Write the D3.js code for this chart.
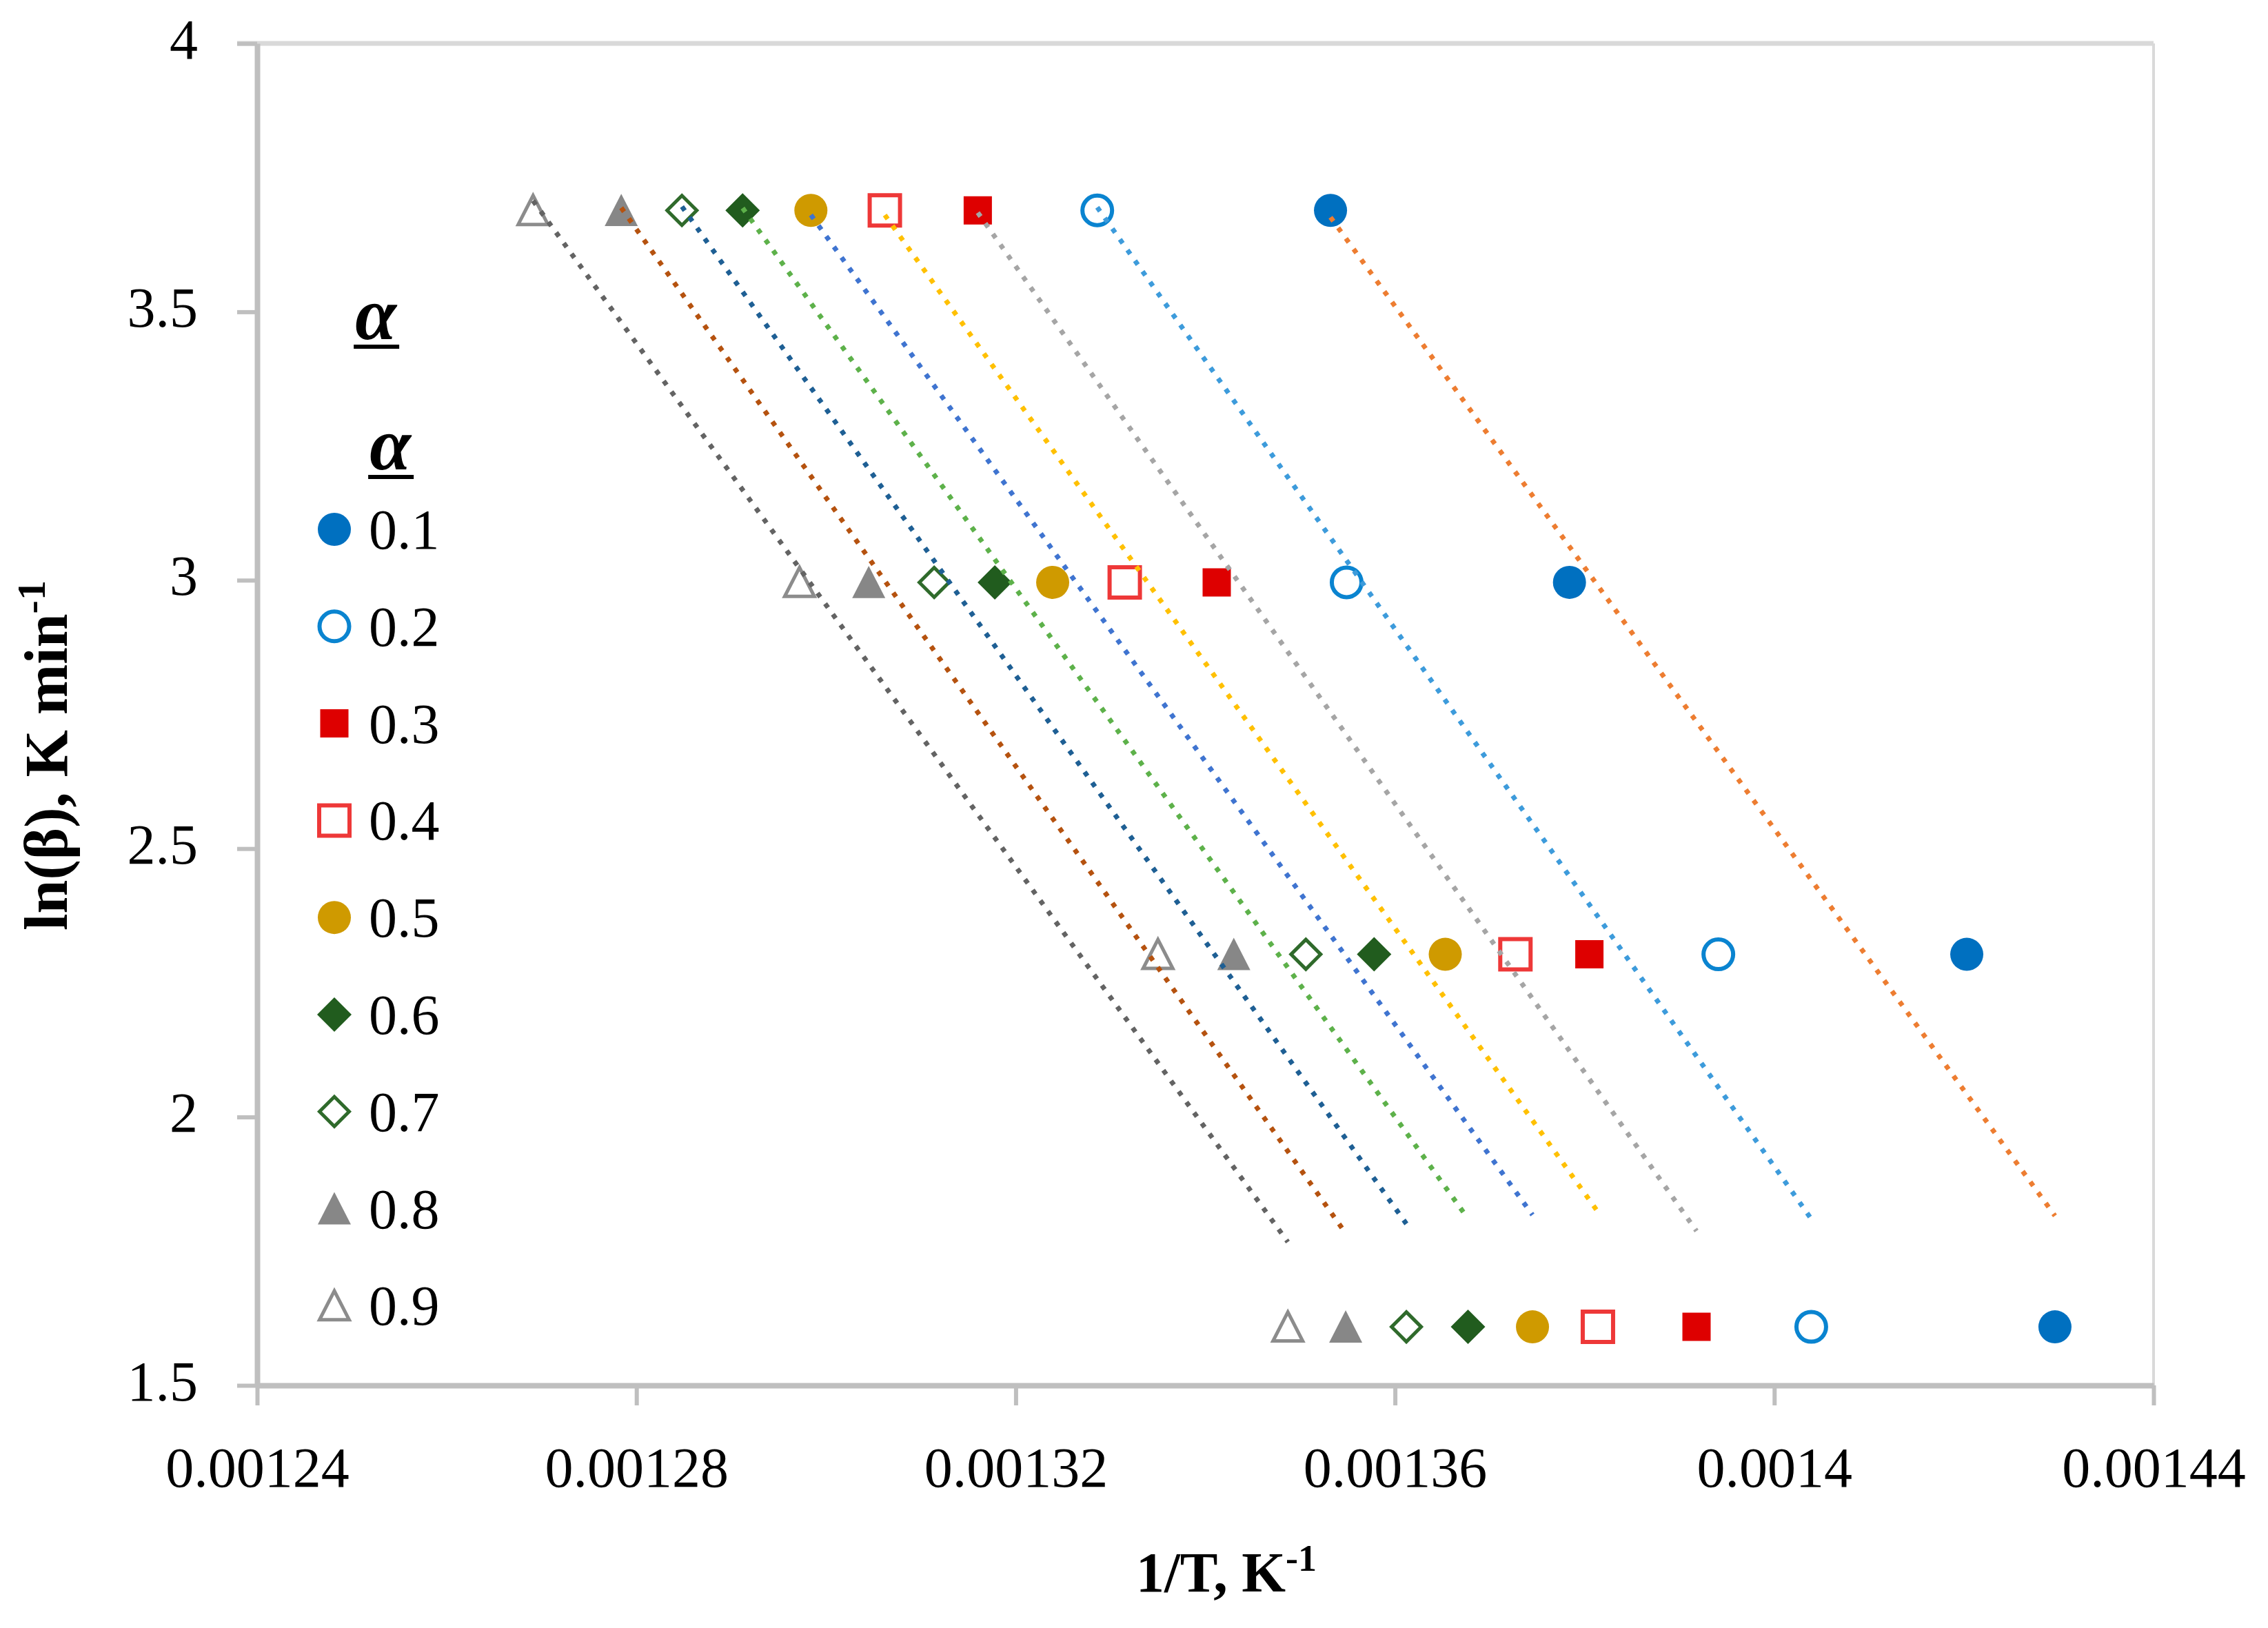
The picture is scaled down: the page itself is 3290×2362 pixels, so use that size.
<!DOCTYPE html>
<html lang="en">
<head>
<meta charset="UTF-8">
<title>ln(beta) vs 1/T</title>
<script src="https://cdn.jsdelivr.net/npm/d3@7"></script>
<style>
  body { margin: 0; background: #fff; }
  svg text { font-family: "Liberation Serif", "Times New Roman", serif; fill: #000; }
</style>
</head>
<body>
<svg id="chart" width="3290" height="2362"></svg>
<script>
// conversion degrees (legend order)
var alphas = ['0.1', '0.2', '0.3', '0.4', '0.5', '0.6', '0.7', '0.8', '0.9'];
// ln of heating rate: 40, 20, 10, 5 K/min
var lnBeta = [3.689, 2.996, 2.303, 1.609];
// 1/T for each alpha, same order as lnBeta
var invT = [
  [0.0013532, 0.0013784, 0.0014203, 0.0014296],
  [0.0013286, 0.0013549, 0.0013941, 0.0014039],
  [0.0013160, 0.0013412, 0.0013805, 0.0013918],
  [0.0013062, 0.0013315, 0.0013727, 0.0013814],
  [0.0012984, 0.0013239, 0.0013653, 0.0013745],
  [0.0012912, 0.0013178, 0.0013578, 0.0013677],
  [0.0012848, 0.0013114, 0.0013506, 0.0013612],
  [0.0012784, 0.0013045, 0.0013430, 0.0013548],
  [0.0012691, 0.0012972, 0.0013350, 0.0013487]
];
var xTicks = [0.00124, 0.00128, 0.00132, 0.00136, 0.0014, 0.00144];
var yTicks = [1.5, 2, 2.5, 3, 3.5, 4];

// marker look per alpha
var shapes = ['circle', 'circle', 'square', 'square', 'circle', 'diamond', 'diamond', 'triangle', 'triangle'];
var filled = [true, false, true, false, true, true, false, true, false];
var markerColors = ['#0070C0', '#0A84D0', '#DE0000', '#EE3838', '#CF9A00', '#215C1E', '#2F6A2B', '#878787', '#8C8C8C'];
// excel trendline colours
var lineColors = ['#ED7D31', '#3D9BDB', '#A5A5A5', '#FFC000', '#3F74D0', '#5DB14A', '#1E5F94', '#B5520F', '#636363'];

var svg = d3.select('#chart');
var pLeft = 373, pRight = 3124, pTop = 63, pBottom = 2010;

var x = d3.scaleLinear().domain([0.00124, 0.00144]).range([pLeft, pRight]);
var y = d3.scaleLinear().domain([1.5, 4]).range([pBottom, pTop]);

// plot frame (top + right)
svg.append('line').attr('x1', 344).attr('x2', pRight).attr('y1', pTop).attr('y2', pTop)
  .attr('stroke', '#D9D9D9').attr('stroke-width', 7);
svg.append('line').attr('x1', pRight).attr('x2', pRight).attr('y1', pTop).attr('y2', pBottom)
  .attr('stroke', '#D9D9D9').attr('stroke-width', 4);

// axes
var yAxis = svg.append('g').attr('transform', 'translate(' + pLeft + ',0)')
  .call(d3.axisLeft(y).tickValues(yTicks).tickSize(29).tickSizeOuter(0).tickFormat(function(d) { return String(d); }));
var xAxis = svg.append('g').attr('transform', 'translate(0,' + pBottom + ')')
  .call(d3.axisBottom(x).tickValues(xTicks).tickSize(29).tickSizeOuter(0).tickFormat(function(d) { return String(d); }));

function styleAxis(g) {
  g.select('.domain').attr('stroke', '#BFBFBF').attr('stroke-width', 8);
  g.selectAll('.tick line').attr('stroke', '#BFBFBF').attr('stroke-width', 6);
  g.selectAll('.tick text').style('font-size', '82px').attr('fill', '#000');
}
yAxis.call(styleAxis);
xAxis.call(styleAxis);
yAxis.selectAll('.tick text').attr('x', -86).attr('dy', 21);
xAxis.selectAll('.tick text').attr('y', 147).attr('dy', 0);

// axis titles
var xt = svg.append('text').attr('x', 1779).attr('y', 2309).attr('text-anchor', 'middle')
  .style('font-size', '82px').style('font-weight', 'bold').text('1/T, K');
xt.append('tspan').attr('dy', -30).style('font-size', '54px').text('-1');

var yt = svg.append('text').attr('transform', 'translate(97,1096) rotate(-90)').attr('text-anchor', 'middle')
  .style('font-size', '88px').style('font-weight', 'bold').text('ln(\u03b2), K min');
yt.append('tspan').attr('dy', -32).style('font-size', '58px').text('-1');

// marker shapes
function shapePath(kind, r) {
  var p = d3.path();
  if (kind == 'circle') {
    p.arc(0, 0, r, 0, 2 * Math.PI);
  } else if (kind == 'square') {
    p.rect(-r, -r, 2 * r, 2 * r);
  } else if (kind == 'diamond') {
    p.moveTo(0, -r); p.lineTo(r, 0); p.lineTo(0, r); p.lineTo(-r, 0); p.closePath();
  } else {
    p.moveTo(0, -r); p.lineTo(r, r * 0.95); p.lineTo(-r, r * 0.95); p.closePath();
  }
  return p.toString();
}
function drawMarker(sel, i) {
  var k = shapes[i];
  var r;
  if (filled[i]) {
    r = k == 'square' ? 20.5 : (k == 'diamond' ? 25 : 24);
    sel.append('path').attr('d', shapePath(k, r)).attr('fill', markerColors[i]);
  } else {
    r = k == 'square' ? 22 : 21.5;
    sel.append('path').attr('d', shapePath(k, r)).attr('fill', '#fff')
      .attr('stroke', markerColors[i]).attr('stroke-width', k == 'circle' || k == 'square' ? 6 : 5)
      .attr('stroke-linejoin', 'miter');
  }
}

// points
var series = alphas.map(function(a, i) {
  return { i: i, pts: invT[i].map(function(v, j) { return [v, lnBeta[j]]; }) };
});
series.forEach(function(s) {
  svg.append('g').selectAll('g').data(s.pts).enter().append('g')
    .attr('transform', function(d) { return 'translate(' + x(d[0]) + ',' + y(d[1]) + ')'; })
    .each(function() { drawMarker(d3.select(this), s.i); });
});

// linear trendlines (least squares, over the data x-range)
series.forEach(function(s) {
  var mx = d3.mean(s.pts, function(d) { return d[0]; });
  var my = d3.mean(s.pts, function(d) { return d[1]; });
  var sxy = d3.sum(s.pts, function(d) { return (d[0] - mx) * (d[1] - my); });
  var sxx = d3.sum(s.pts, function(d) { return (d[0] - mx) * (d[0] - mx); });
  var b = sxy / sxx, a = my - b * mx;
  var ext = d3.extent(s.pts, function(d) { return d[0]; });
  svg.append('line')
    .attr('x1', x(ext[0])).attr('y1', y(a + b * ext[0]))
    .attr('x2', x(ext[1])).attr('y2', y(a + b * ext[1]))
    .attr('stroke', lineColors[s.i]).attr('stroke-width', 7)
    .attr('stroke-dasharray', '7 12');
});

// alpha headings (stray one + legend title)
function alphaTitle(cx, base) {
  var t = svg.append('text').attr('x', cx).attr('y', base).attr('text-anchor', 'middle')
    .style('font-size', '108px').style('font-weight', 'bold').style('font-style', 'italic').text('\u03b1');
  var bb = t.node().getBBox();
  svg.append('line').attr('x1', bb.x - 2).attr('x2', bb.x + bb.width + 2)
    .attr('y1', base + 11).attr('y2', base + 11).attr('stroke', '#000').attr('stroke-width', 6);
}
alphaTitle(545, 492);
alphaTitle(566, 681);

// legend
var legend = svg.append('g').selectAll('g').data(alphas).enter().append('g')
  .attr('transform', function(d, i) { return 'translate(485,' + (768 + i * 140.8) + ')'; });
legend.each(function(d, i) { drawMarker(d3.select(this), i); });
legend.append('text').attr('x', 50).attr('y', 28).style('font-size', '82px').text(function(d) { return d; });
</script>
</body>
</html>
